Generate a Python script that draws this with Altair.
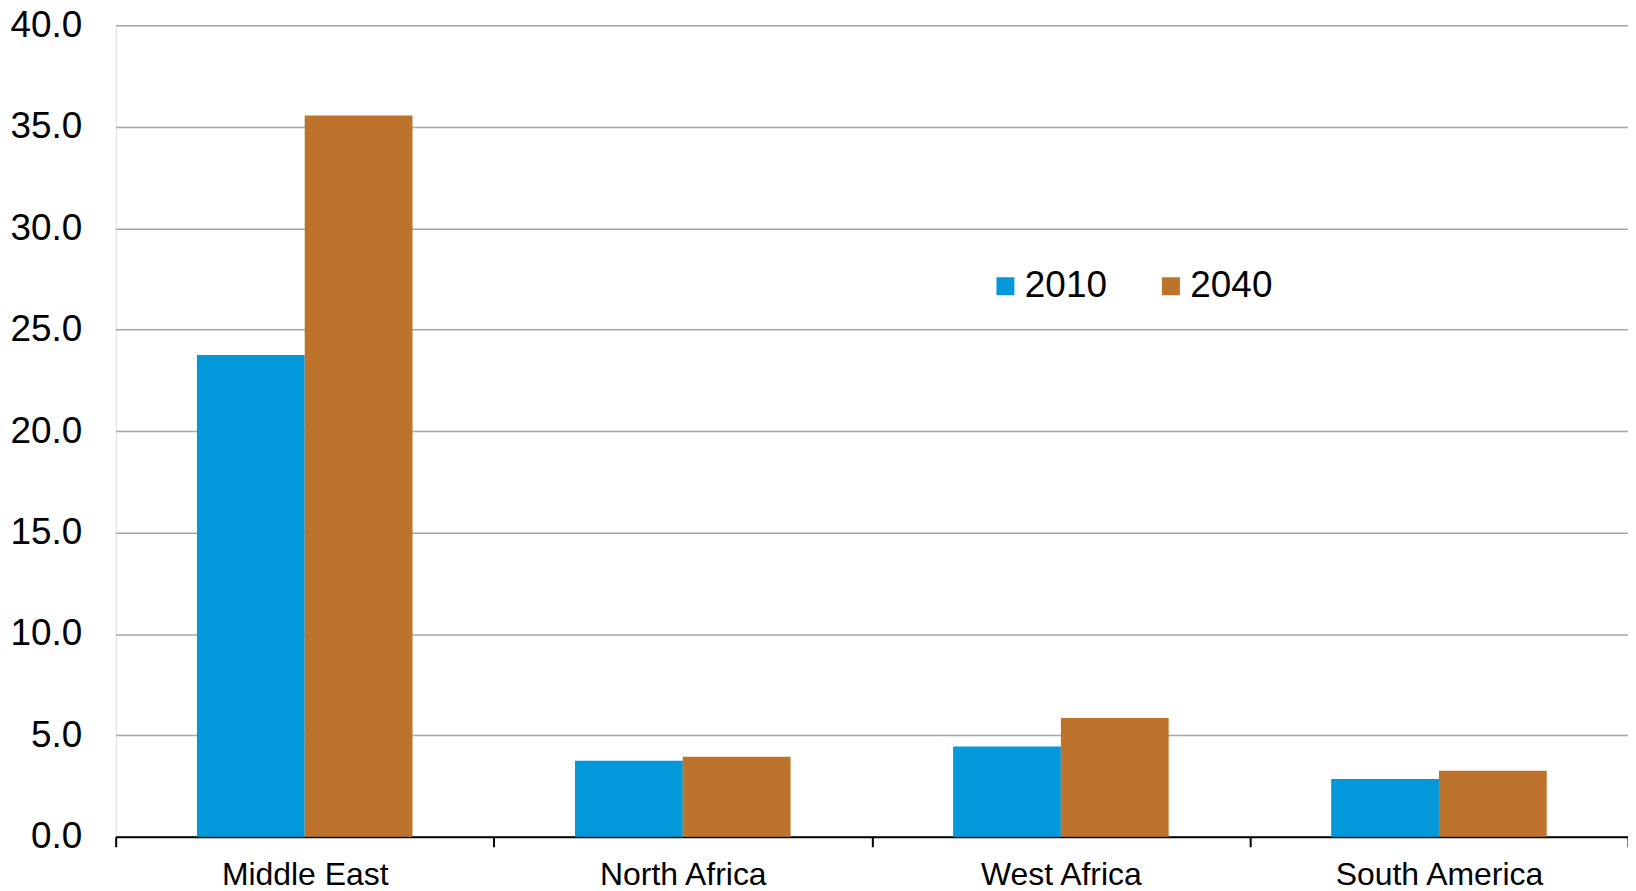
import altair as alt
import pandas as pd

regions = ["Middle East", "North Africa", "West Africa", "South America"]
years = ["2010", "2040"]
v2010 = [23.75, 3.75, 4.45, 2.85]
v2040 = [35.55, 3.95, 5.85, 3.25]
y_ticks = [0, 5, 10, 15, 20, 25, 30, 35, 40]
colors = ["#0398d9", "#bd732c"]

rows = []
for r, a, b in zip(regions, v2010, v2040):
    rows.append({"region": r, "year": "2010", "value": a})
    rows.append({"region": r, "year": "2040", "value": b})
df = pd.DataFrame(rows)

FONT = "Liberation Sans"

chart = alt.Chart(df).mark_bar().encode(
    x=alt.X(
        "region:N",
        sort=regions,
        scale=alt.Scale(paddingInner=0, paddingOuter=0),
        axis=alt.Axis(
            title=None,
            labelAngle=0,
            tickBand="extent",
            grid=False,
            domainColor="black",
            domainWidth=2,
            tickColor="black",
            tickWidth=2,
            tickSize=10,
            labelPadding=13,
            labelFontSize=32,
            labelLimit=0,
            labelColor="black",
            labelFont=FONT,
        ),
    ),
    xOffset=alt.XOffset(
        "year:N",
        sort=years,
        scale=alt.Scale(paddingInner=0, paddingOuter=0.754),
    ),
    y=alt.Y(
        "value:Q",
        scale=alt.Scale(domain=[0, 40], nice=False),
        axis=alt.Axis(
            title=None,
            values=y_ticks,
            format=".1f",
            ticks=False,
            domain=False,
            grid=True,
            gridColor="#a6a6a6",
            gridWidth=1.5,
            labelPadding=34,
            labelFontSize=37,
            labelColor="black",
            labelFont=FONT,
        ),
    ),
    color=alt.Color(
        "year:N",
        sort=years,
        scale=alt.Scale(domain=years, range=colors),
        legend=alt.Legend(
            title=None,
            orient="none",
            legendX=874,
            legendY=243,
            direction="horizontal",
            symbolType="square",
            symbolSize=324,
            symbolStrokeWidth=0,
            symbolOpacity=1,
            labelFontSize=37,
            labelFont=FONT,
            labelColor="black",
            labelOffset=1,
            columnPadding=45,
            padding=0,
        ),
    ),
).properties(
    width=1517,
    height=814,
    autosize=alt.AutoSizeParams(type="none"),
    padding={"left": 108, "top": 16, "right": 0, "bottom": 50},
).configure_view(stroke=None).configure(font=FONT)

chart.save("out.html", embed_options={"renderer": "svg", "actions": False})
